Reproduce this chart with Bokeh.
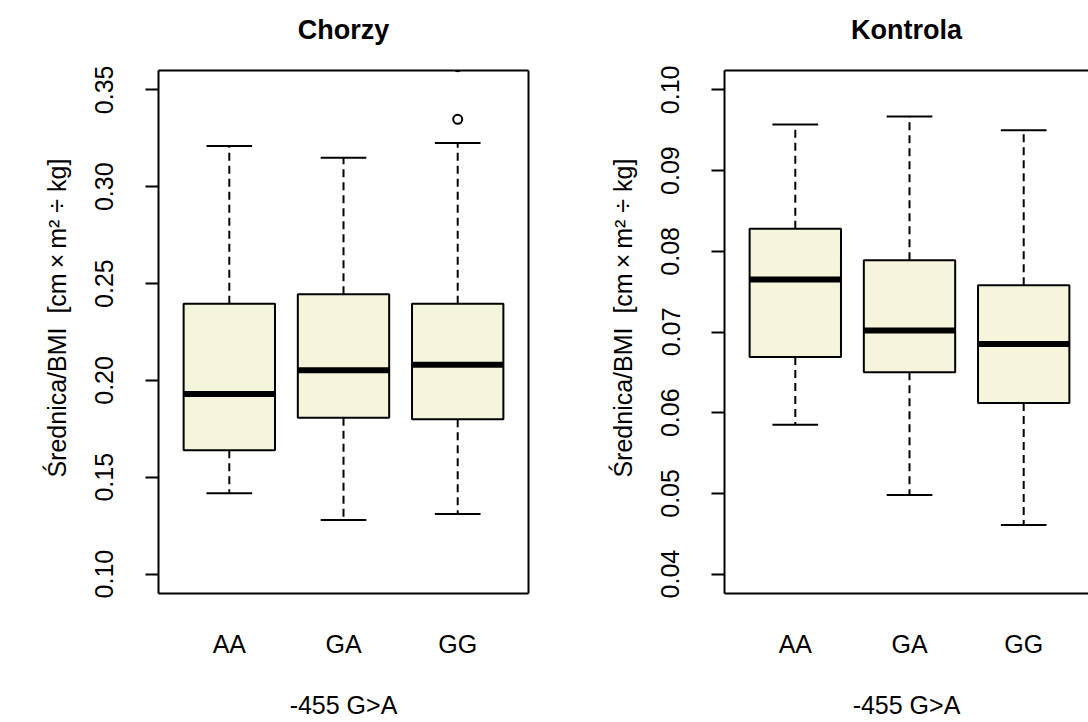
from bokeh.plotting import figure
from bokeh.layouts import row
from bokeh.models import Range1d, FixedTicker, LinearAxis, PrintfTickFormatter
from bokeh.embed import file_html
from bokeh.resources import INLINE

# ---------------- data ----------------
categories = ["AA", "GA", "GG"]
x_title = "-455 G>A"
y_title = "\u00a0\u00a0\u00a0\u00a0Średnica/BMI\u00a0\u00a0[cm\u2009×\u2009m² ÷ kg]"

chorzy_title = "Chorzy"
chorzy_low = [0.1418, 0.1279, 0.1310]
chorzy_q1 = [0.1640, 0.1807, 0.1799]
chorzy_median = [0.1930, 0.2052, 0.2081]
chorzy_q3 = [0.2396, 0.2445, 0.2396]
chorzy_high = [0.3210, 0.3149, 0.3226]
chorzy_out_group = ["GG", "GG"]
chorzy_out_value = [0.3348, 0.3620]
chorzy_ticks = [0.10, 0.15, 0.20, 0.25, 0.30, 0.35]

kontrola_title = "Kontrola"
kontrola_low = [0.0585, 0.0498, 0.0461]
kontrola_q1 = [0.0669, 0.0650, 0.0612]
kontrola_median = [0.0765, 0.0702, 0.0685]
kontrola_q3 = [0.0828, 0.0789, 0.0758]
kontrola_high = [0.0957, 0.0967, 0.0950]
kontrola_out_group = []
kontrola_out_value = []
kontrola_ticks = [0.04, 0.05, 0.06, 0.07, 0.08, 0.09, 0.10]

# ---------------- style ----------------
FONT = "Liberation Sans"
FILL = "#F5F5DC"
LW = 2
BOXWEX = 0.8
FRAME_W = 370
LEFT = 158
TOP = 70
BOTTOM = 129


def bare_axis(side_label=None):
    ax = LinearAxis(ticker=FixedTicker(ticks=[]))
    ax.axis_line_width = LW
    ax.axis_line_color = "black"
    ax.major_tick_out = 0
    ax.major_tick_in = 0
    ax.minor_tick_out = 0
    ax.minor_tick_in = 0
    ax.major_label_standoff = 0
    ax.major_label_text_font_size = "0px"
    if side_label:
        ax.axis_label = side_label
        ax.axis_label_standoff = 26
        ax.axis_label_text_font = FONT
        ax.axis_label_text_font_size = "27px"
        ax.axis_label_text_font_style = "bold"
        ax.axis_label_text_color = "black"
    return ax


def make_panel(title, low, q1, med, q3, high, out_group, out_value, ticks,
               width, right_border, draw_right):
    n = len(categories)
    xs = [i + 1 for i in range(n)]
    xlo = 0.5 - 0.04 * n
    xspan = n + 0.08 * n
    frame_w = width - LEFT - right_border
    xhi = xlo + xspan * frame_w / FRAME_W
    ylo, yhi = min(ticks), max(ticks)
    pad = 0.04 * (yhi - ylo)

    p = figure(width=width, height=722,
               x_range=Range1d(xlo, xhi), y_range=Range1d(ylo - pad, yhi + pad),
               output_backend="svg", toolbar_location=None,
               x_axis_location=None, y_axis_location=None,
               min_border_left=LEFT, min_border_right=right_border,
               min_border_top=TOP, min_border_bottom=BOTTOM)
    p.outline_line_color = None
    p.grid.visible = False
    p.background_fill_color = "white"
    p.border_fill_color = "white"

    # y axis
    yax = LinearAxis(ticker=FixedTicker(ticks=ticks),
                     formatter=PrintfTickFormatter(format="%.2f"))
    yax.axis_line_width = LW
    yax.axis_line_color = "black"
    yax.major_tick_out = 13
    yax.major_tick_in = 0
    yax.major_tick_line_width = LW
    yax.minor_tick_out = 0
    yax.minor_tick_in = 0
    yax.major_label_orientation = "vertical"
    yax.major_label_standoff = 32
    yax.major_label_text_font = FONT
    yax.major_label_text_font_size = "25px"
    yax.major_label_text_color = "black"
    yax.axis_label = y_title
    yax.axis_label_standoff = 22
    yax.axis_label_text_font = FONT
    yax.axis_label_text_font_size = "25px"
    yax.axis_label_text_font_style = "normal"
    yax.axis_label_text_color = "black"
    p.add_layout(yax, "left")

    # x axis
    xax = LinearAxis(ticker=FixedTicker(ticks=xs),
                     major_label_overrides={x: c for x, c in zip(xs, categories)})
    xax.axis_line_width = LW
    xax.axis_line_color = "black"
    xax.major_tick_out = 0
    xax.major_tick_in = 0
    xax.minor_tick_out = 0
    xax.minor_tick_in = 0
    xax.major_label_standoff = 36
    xax.major_label_text_font = FONT
    xax.major_label_text_font_size = "25px"
    xax.major_label_text_color = "black"
    xax.axis_label = x_title
    xax.axis_label_standoff = 30
    xax.axis_label_text_font = FONT
    xax.axis_label_text_font_size = "25px"
    xax.axis_label_text_font_style = "normal"
    xax.axis_label_text_color = "black"
    p.add_layout(xax, "below")

    # frame top (carries the panel title) and right side when visible
    p.add_layout(bare_axis(title), "above")
    if draw_right:
        p.add_layout(bare_axis(), "right")

    half = BOXWEX / 2
    cap = BOXWEX / 4
    # whiskers
    p.segment(x0=xs, y0=q3, x1=xs, y1=high, line_color="black",
              line_width=LW, line_dash="8 5")
    p.segment(x0=xs, y0=q1, x1=xs, y1=low, line_color="black",
              line_width=LW, line_dash="8 5")
    # staples
    p.segment(x0=[x - cap for x in xs], y0=high, x1=[x + cap for x in xs], y1=high,
              line_color="black", line_width=LW)
    p.segment(x0=[x - cap for x in xs], y0=low, x1=[x + cap for x in xs], y1=low,
              line_color="black", line_width=LW)
    # boxes
    p.vbar(x=xs, width=BOXWEX, bottom=q1, top=q3, fill_color=FILL,
           line_color="black", line_width=LW)
    # medians
    p.segment(x0=[x - half for x in xs], y0=med, x1=[x + half for x in xs], y1=med,
              line_color="black", line_width=6)
    # outliers
    if out_value:
        ox = [categories.index(g) + 1 for g in out_group]
        p.scatter(x=ox, y=out_value, marker="circle", size=9, fill_color=None,
                  line_color="black", line_width=LW)
    return p


p1 = make_panel(chorzy_title, chorzy_low, chorzy_q1, chorzy_median, chorzy_q3,
                chorzy_high, chorzy_out_group, chorzy_out_value, chorzy_ticks,
                width=566, right_border=38, draw_right=True)
p2 = make_panel(kontrola_title, kontrola_low, kontrola_q1, kontrola_median,
                kontrola_q3, kontrola_high, kontrola_out_group, kontrola_out_value,
                kontrola_ticks, width=522, right_border=0, draw_right=False)

layout = row(p1, p2, spacing=0)
open("out.html", "w").write(file_html(layout, INLINE))
